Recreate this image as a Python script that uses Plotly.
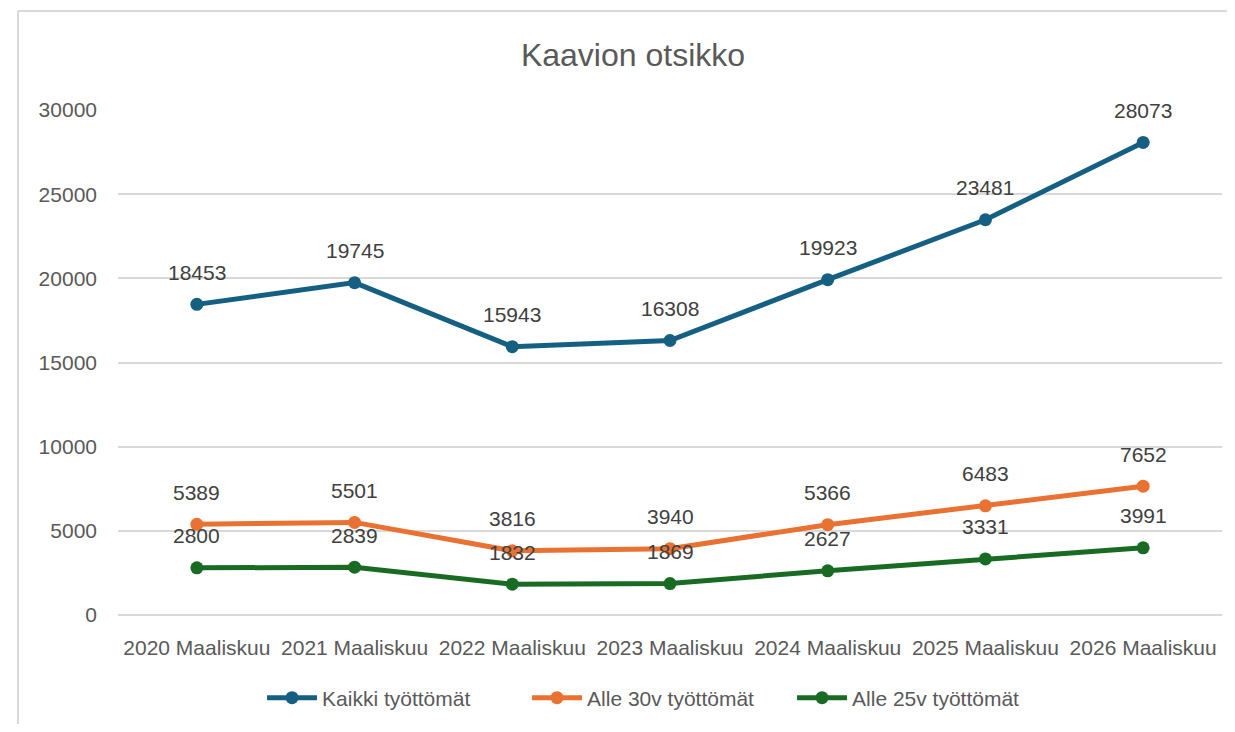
import plotly.graph_objects as go

# chart data
categories = ["2020 Maaliskuu", "2021 Maaliskuu", "2022 Maaliskuu", "2023 Maaliskuu",
              "2024 Maaliskuu", "2025 Maaliskuu", "2026 Maaliskuu"]
kaikki = [18453, 19745, 15943, 16308, 19923, 23481, 28073]
alle30 = [5389, 5501, 3816, 3940, 5366, 6483, 7652]
alle25 = [2800, 2839, 1832, 1869, 2627, 3331, 3991]

series = [
    ("Kaikki työttömät", kaikki, "#156082"),
    ("Alle 30v työttömät", alle30, "#E97132"),
    ("Alle 25v työttömät", alle25, "#196B24"),
]

FONT = "Liberation Sans"
GREY = "#595959"
LABEL = "#404040"

fig = go.Figure()
annotations = []
for name, vals, color in series:
    fig.add_trace(go.Scatter(
        x=categories, y=vals, name=name, mode="lines+markers",
        line=dict(color=color, width=5),
        marker=dict(color=color, size=13),
    ))
    for c, v in zip(categories, vals):
        annotations.append(dict(
            x=c, y=v, text=str(v), showarrow=False, yshift=32,
            font=dict(family=FONT, size=21, color=LABEL),
        ))

# page body has an 8px margin all round, keep the figure inside the window
fig.update_layout(
    width=1219, height=716,
    margin=dict(l=110, r=5, t=102, b=109, autoexpand=False),
    paper_bgcolor="white", plot_bgcolor="white",
    font=dict(family=FONT, color=GREY),
    title=dict(text="Kaavion otsikko", x=0.5127, xref="container", xanchor="center",
               y=0.9344, yref="container", yanchor="middle",
               font=dict(family=FONT, size=32, color=GREY)),
    legend=dict(orientation="h", x=0.2084, xref="container", xanchor="left",
                y=0.0363, yref="container", yanchor="middle",
                entrywidth=200, entrywidthmode="pixels",
                font=dict(family=FONT, size=21, color=GREY), itemwidth=50),
    annotations=annotations,
    # chart frame: only the top and left edges fall inside the picture
    shapes=[
        dict(type="line", xref="paper", yref="paper", x0=-0.0906, x1=1.01,
             y0=1.196, y1=1.196, line=dict(color="#D9D9D9", width=2), layer="below"),
        dict(type="line", xref="paper", yref="paper", x0=-0.0906, x1=-0.0906,
             y0=-0.25, y1=1.196, line=dict(color="#D9D9D9", width=2), layer="below"),
    ],
)
fig.update_xaxes(type="category", range=[-0.5, 6.5], showgrid=False, zeroline=False,
                 showline=False, ticks="", ticklabelstandoff=18, automargin=False,
                 tickfont=dict(family=FONT, size=21, color=GREY))
fig.update_yaxes(range=[0, 30000], dtick=5000, tickformat="d", showgrid=True,
                 gridcolor="#D9D9D9", gridwidth=2, zeroline=True,
                 zerolinecolor="#D9D9D9", zerolinewidth=2, automargin=False,
                 showline=False, ticks="", ticklabelstandoff=20,
                 tickfont=dict(family=FONT, size=21, color=GREY))

fig.write_html("out.html")
